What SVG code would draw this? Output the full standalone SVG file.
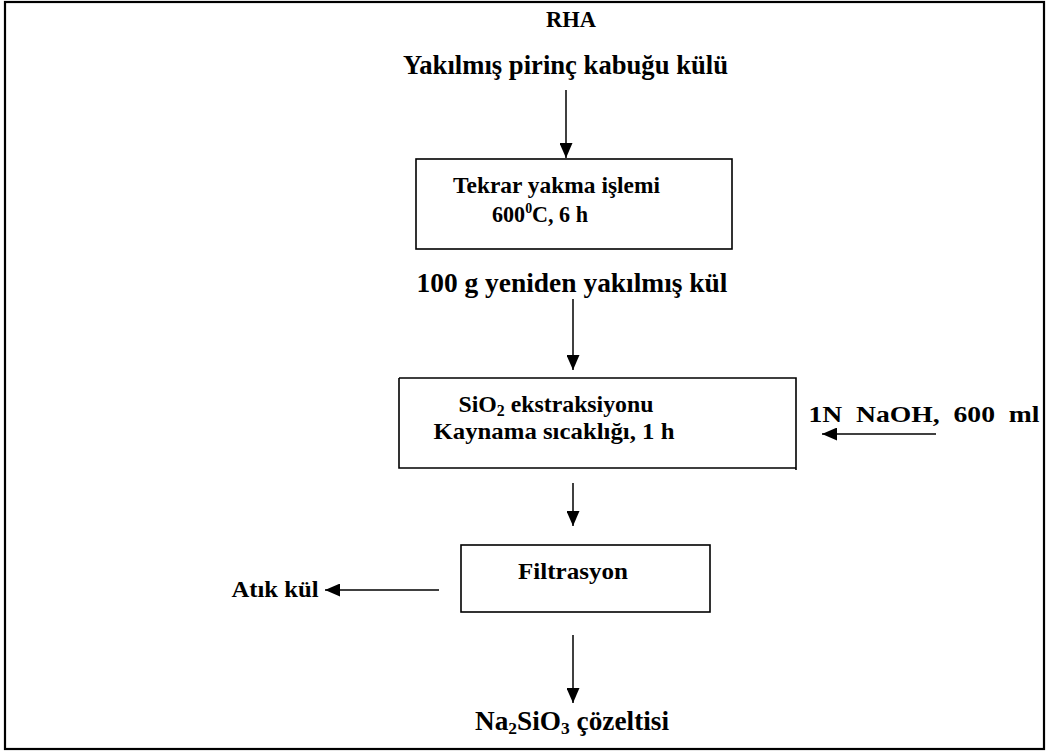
<svg xmlns="http://www.w3.org/2000/svg" width="1049" height="752" viewBox="0 0 1049 752">
<style>
.t{font-family:"Liberation Serif","Times New Roman",serif;font-weight:bold;fill:#000;text-anchor:middle}
.o{font-size:26.5px}
.b{font-size:24px}
.box{fill:none;stroke:#000;stroke-width:1.6}
.c{stroke:#000;stroke-width:1.5;fill:none;marker-end:url(#ah)}
</style>
<defs>
<marker id="ah" markerUnits="userSpaceOnUse" markerWidth="15" markerHeight="13" refX="15" refY="6.5" orient="auto">
<path d="M0,0 L15,6.5 L0,13 z" fill="#000"/>
</marker>
</defs>
<rect x="5" y="2" width="1039" height="747" fill="#fff" stroke="#000" stroke-width="2.2"/>
<g id="rha"><text class="t" font-size="22.5" x="571" y="27" textLength="50" lengthAdjust="spacingAndGlyphs">RHA</text></g>
<g id="kul"><text class="t o" x="565.5" y="74" textLength="325" lengthAdjust="spacingAndGlyphs">Yakılmış pirinç kabuğu külü</text></g>
<g id="yakma">
<rect class="box" x="416" y="159" width="316" height="90"/>
<text class="t" font-size="23" x="556.5" y="193" textLength="207" lengthAdjust="spacingAndGlyphs">Tekrar yakma işlemi</text>
<text class="t" font-size="23" x="540" y="221.5" textLength="96" lengthAdjust="spacingAndGlyphs">600<tspan font-size="14.5" dy="-9">0</tspan><tspan dy="9">C, 6 h</tspan></text>
</g>
<g id="yenikul"><text class="t o" x="572" y="292" textLength="311" lengthAdjust="spacingAndGlyphs">100 g yeniden yakılmış kül</text></g>
<g id="ekstraksiyon">
<path class="box" d="M399,378 H796 V470 M796,468 H399 V378"/>
<text class="t b" x="556" y="412" textLength="195" lengthAdjust="spacingAndGlyphs">SiO<tspan font-size="16" dy="4">2</tspan><tspan dy="-4"> ekstraksiyonu</tspan></text>
<text class="t b" x="554" y="439" textLength="241" lengthAdjust="spacingAndGlyphs">Kaynama sıcaklığı, 1 h</text>
</g>
<g id="naoh"><text class="t b" x="924" y="422" textLength="231" lengthAdjust="spacingAndGlyphs" xml:space="preserve">1N  NaOH,  600  ml</text></g>
<g id="filtrasyon">
<rect class="box" x="461" y="545" width="249" height="67"/>
<text class="t b" x="573" y="579" textLength="110" lengthAdjust="spacingAndGlyphs">Filtrasyon</text>
</g>
<g id="atik"><text class="t b" x="275" y="597" textLength="87" lengthAdjust="spacingAndGlyphs">Atık kül</text></g>
<g id="na2sio3"><text class="t o" x="572" y="730" textLength="194" lengthAdjust="spacingAndGlyphs">Na<tspan font-size="17" dy="4">2</tspan><tspan dy="-4">SiO</tspan><tspan font-size="17" dy="4">3</tspan><tspan dy="-4"> çözeltisi</tspan></text></g>
<g id="connectors">
<line class="c" x1="566" y1="90" x2="566" y2="158"/>
<line class="c" x1="573" y1="299" x2="573" y2="370"/>
<line class="c" x1="936" y1="434" x2="822" y2="434"/>
<line class="c" x1="573" y1="483" x2="573" y2="526"/>
<line class="c" x1="439" y1="590" x2="325" y2="590"/>
<line class="c" x1="573" y1="635" x2="573" y2="703"/>
</g>
</svg>
